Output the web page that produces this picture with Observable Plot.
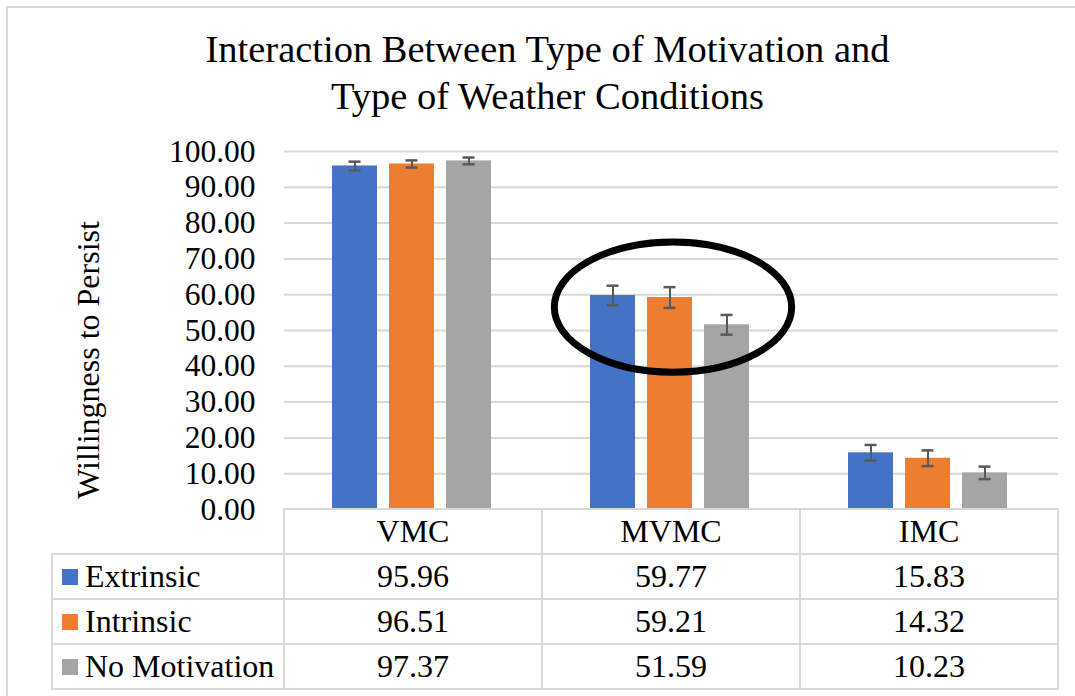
<!DOCTYPE html>
<html><head><meta charset="utf-8">
<script src="https://cdn.jsdelivr.net/npm/d3@7"></script>
<script src="https://cdn.jsdelivr.net/npm/@observablehq/plot@0.6"></script>
<style>
body{margin:0;background:#fff;overflow:hidden;color:#000;}
#wrap{position:relative;width:1075px;height:696px;overflow:hidden;background:#fff;font-family:'Liberation Serif', serif;}
#frame{position:absolute;left:6px;top:6px;width:1200px;height:800px;border:2px solid #d9d9d9;}
#title{position:absolute;left:0;top:26px;width:1095px;text-align:center;font-family:'Liberation Serif', serif;font-size:38.5px;line-height:47px;}
#ylabel{position:absolute;left:88px;top:360px;transform:translate(-50%,-50%) rotate(-90deg);font-family:'Liberation Serif', serif;font-size:32px;white-space:nowrap;}
#plot{position:absolute;left:0;top:0;}
#plot svg text{font-family:'Liberation Serif', serif;}
.cell{position:absolute;box-sizing:border-box;border:2px solid #d9d9d9;font-family:'Liberation Serif', serif;font-size:32px;text-align:center;white-space:nowrap;}
.sw{display:inline-block;width:16px;height:16px;position:absolute;left:9px;}
</style></head>
<body>
<div id="wrap">
  <div id="frame"></div>
  <div id="plot"></div>
  <div id="title">Interaction Between Type of Motivation and<br>Type of Weather Conditions</div>
  <div id="ylabel">Willingness to Persist</div>
  <div id="table"></div>
</div>
<script>
const conditions = ["VMC", "MVMC", "IMC"];
const motivations = ["Extrinsic", "Intrinsic", "No Motivation"];
const extrinsic = [95.96, 59.77, 15.83];
const intrinsic = [96.51, 59.21, 14.32];
const noMotivation = [97.37, 51.59, 10.23];
const extrinsicErr = [1.2, 2.75, 2.2];
const intrinsicErr = [1.0, 2.9, 2.2];
const noMotivationErr = [0.95, 2.75, 1.75];
const seriesColors = ["#4472C4", "#ED7D31", "#A5A5A5"];
const yTicks = [0, 10, 20, 30, 40, 50, 60, 70, 80, 90, 100];
const valueLabels = [
  ["95.96", "59.77", "15.83"],
  ["96.51", "59.21", "14.32"],
  ["97.37", "51.59", "10.23"]
];
// annotation: ellipse around MVMC group
const highlightCondition = "MVMC";
const highlightCenterValue = 56.4;
const highlightHalfHeightValue = 18.2;

const series = [extrinsic, intrinsic, noMotivation];
const errs = [extrinsicErr, intrinsicErr, noMotivationErr];
const rows = conditions.flatMap((c, i) => motivations.map((m, j) => ({
  condition: c, motivation: m, value: series[j][i], err: errs[j][i]
})));

const font = "'Liberation Serif', serif";
const errColor = "#595959";

const chart = Plot.plot({
  width: 1075,
  height: 510,
  marginLeft: 283,
  marginRight: 17,
  marginTop: 151,
  marginBottom: 1,
  style: {fontFamily: font, fontSize: "31.5px", color: "#000", background: "transparent", overflow: "visible"},
  fx: {domain: conditions, padding: 0, axis: null},
  x: {domain: motivations, paddingInner: 0.217, paddingOuter: 0.852, axis: null},
  y: {domain: [0, 100], axis: null},
  color: {domain: motivations, range: seriesColors},
  marks: [
    Plot.gridY(yTicks.slice(1), {stroke: "#d9d9d9", strokeOpacity: 1, strokeWidth: 2}),
    Plot.axisY(yTicks, {anchor: "left", tickSize: 0, tickPadding: 29, tickFormat: d => d.toFixed(2), fontSize: 31.5, label: null, fill: "#000"}),
    Plot.barY(rows, {fx: "condition", x: "motivation", y: "value", fill: "motivation", dx: -2}),
    Plot.ruleX(rows, {fx: "condition", x: "motivation", y1: d => d.value - d.err, y2: d => d.value + d.err, stroke: errColor, strokeWidth: 2, dx: -2}),
    Plot.tickY(rows, {fx: "condition", x: "motivation", y: d => d.value + d.err, stroke: errColor, strokeWidth: 2.5, insetLeft: 16.5, insetRight: 16.5, dx: -2}),
    Plot.tickY(rows, {fx: "condition", x: "motivation", y: d => d.value - d.err, stroke: errColor, strokeWidth: 2.5, insetLeft: 16.5, insetRight: 16.5, dx: -2})
  ]
});
document.getElementById("plot").appendChild(chart);

const fx = chart.scale("fx");
const ys = chart.scale("y");
const bw = fx.bandwidth;
const cx = fx.apply(highlightCondition) + bw / 2 + 2;
const cy = ys.apply(highlightCenterValue);
const ry = ys.apply(highlightCenterValue - highlightHalfHeightValue) - cy;
const rx = bw * 0.46;
d3.select(chart).append("ellipse")
  .attr("cx", cx).attr("cy", cy).attr("rx", rx).attr("ry", ry)
  .attr("fill", "none").attr("stroke", "#000").attr("stroke-width", 7);

// data table below the plot, aligned with the fx scale
const table = document.getElementById("table");
const y0 = ys.apply(0);
const rowH = 45;
const legendLeft = 52;
const plotLeft = fx.apply(conditions[0]);
function cell(x, y, w, h, html, extra) {
  const d = document.createElement("div");
  d.className = "cell";
  d.style.left = (x - 1) + "px";
  d.style.top = (y - 1) + "px";
  d.style.width = (w + 2) + "px";
  d.style.height = (h + 2) + "px";
  d.style.lineHeight = (h - 2) + "px";
  if (extra) Object.assign(d.style, extra);
  d.innerHTML = html;
  table.appendChild(d);
}
conditions.forEach((c, i) => cell(fx.apply(c), y0, bw, rowH, c));
motivations.forEach((m, j) => {
  const top = y0 + rowH * (j + 1);
  cell(legendLeft, top, plotLeft - legendLeft, rowH,
    `<span class="sw" style="background:${seriesColors[j]};top:${(rowH - 16) / 2 - 1}px"></span>${m}`,
    {textAlign: "left", paddingLeft: "32px"});
  conditions.forEach((c, i) => cell(fx.apply(c), top, bw, rowH, valueLabels[j][i]));
});
</script>
</body></html>
